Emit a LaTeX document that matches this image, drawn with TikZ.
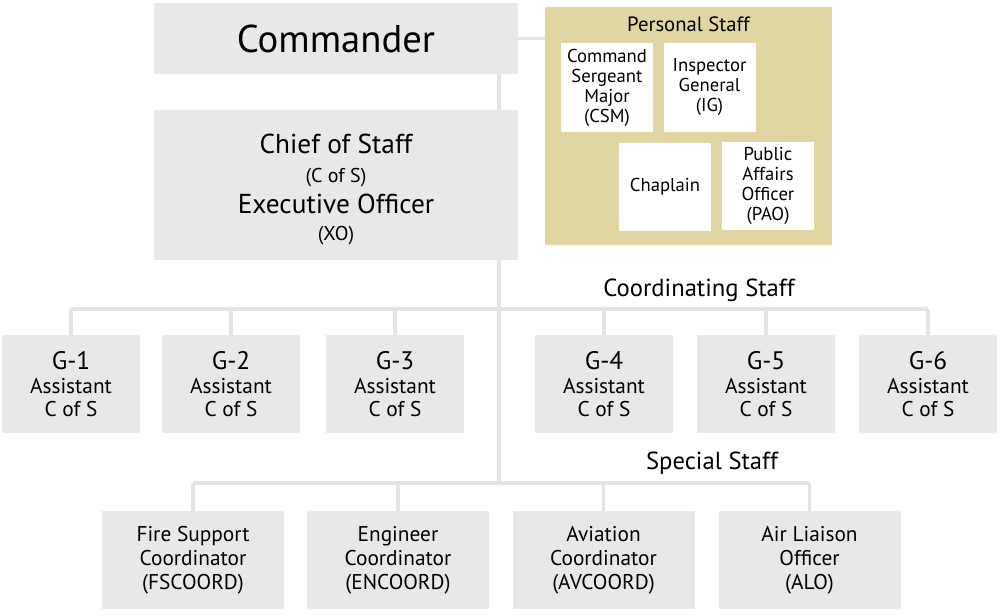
\documentclass[tikz,border=0pt]{standalone}
\usepackage{fontspec}
\setmainfont{PT Sans}
\usepackage{xcolor}
\usetikzlibrary{positioning}
\definecolor{boxgray}{RGB}{232, 232, 232}
\definecolor{linegray}{RGB}{228, 228, 228}
\definecolor{stafftan}{RGB}{224, 213, 163}

\newcommand{\gname}[1]{{\fontsize{19}{20}\selectfont #1}\\[1.2pt]}

\tikzset{
 link/.style={draw=linegray, line width=2.4pt},
 graybox/.style={fill=boxgray, inner sep=0pt, align=center},
 gstaff/.style={graybox, minimum width=103.5pt, minimum height=73.5pt, font=\fontsize{16}{17.25}\selectfont},
 sstaff/.style={graybox, minimum width=136.5pt, minimum height=73.5pt, font=\fontsize{16}{18}\selectfont},
 pstaff/.style={fill=white, inner sep=0pt, align=center, minimum width=69pt, minimum height=66.5pt, font=\fontsize{14}{15}\selectfont},
 grouptitle/.style={font=\fontsize{18.5}{20}\selectfont, inner sep=0pt},
}

\begin{document}
\begin{tikzpicture}[x=0.75pt, y=-0.75pt]
\useasboundingbox (0,0) rectangle (1000,615);

 %command group
 \node[graybox, minimum width=273pt, minimum height=53pt, font=\fontsize{29}{32}\selectfont] (cmd) at (336,38.5) {Commander};
 \node[graybox, minimum width=273pt, minimum height=112.5pt] (cos) at (336,185) {};
 \node[anchor=base, inner sep=0pt, font=\fontsize{20.5}{24}\selectfont] (cosname) at (336,153) {Chief of Staff};
 \node[anchor=base, inner sep=0pt, font=\fontsize{15}{17}\selectfont] (cosabbr) at (336,182) {(C of S)};
 \node[anchor=base, inner sep=0pt, font=\fontsize{20.5}{24}\selectfont] (xoname) at (336,213) {Executive Officer};
 \node[anchor=base, inner sep=0pt, font=\fontsize{15}{17}\selectfont] (xoabbr) at (336,240) {(XO)};

 %personal staff
 \node[fill=stafftan, inner sep=0pt, minimum width=215pt, minimum height=178.5pt] (pers) at (688.5,126) {};
 \node[inner sep=0pt, font=\fontsize{15.5}{17}\selectfont] (perstitle) at (688.5,24.5) {Personal Staff};
 \node[pstaff] (csm) at (607,87.5) {Command\\Sergeant\\Major\\(CSM)};
 \node[pstaff] (ig) at (709.5,87.5) {Inspector\\General\\(IG)};
 \node[pstaff] (chap) at (665,187) {Chaplain};
 \node[pstaff] (pao) at (768,186) {Public\\Affairs\\Officer\\(PAO)};

 \coordinate (cs) at (499,309);
 \coordinate (ss) at (499,483);

 %coordinating staff
 \node[gstaff] (g1) at (71,384) {\gname{G-1}Assistant\\C of S};
 \node[gstaff] (g2) at (231,384) {\gname{G-2}Assistant\\C of S};
 \node[gstaff] (g3) at (395,384) {\gname{G-3}Assistant\\C of S};
 \node[gstaff] (g4) at (604,384) {\gname{G-4}Assistant\\C of S};
 \node[gstaff] (g5) at (766,384) {\gname{G-5}Assistant\\C of S};
 \node[gstaff] (g6) at (928,384) {\gname{G-6}Assistant\\C of S};
 \node[grouptitle] (cstitle) at (699,290) {Coordinating Staff};

 %special staff
 \node[sstaff] (fsc) at (193,560) {Fire Support\\Coordinator\\(FSCOORD)};
 \node[sstaff] (enc) at (398,560) {Engineer\\Coordinator\\(ENCOORD)};
 \node[sstaff] (avc) at (603.5,560) {Aviation\\Coordinator\\(AVCOORD)};
 \node[sstaff] (alo) at (809.5,560) {Air Liaison\\Officer\\(ALO)};
 \node[grouptitle] (sstitle) at (712,463) {Special Staff};

 %links
 \draw[link] (cmd.east) -- (cmd.east -| pers.west);
 \draw[link] (cmd.south -| cs) -- (cos.north -| cs);
 \draw[link] (cos.south -| cs) -- (ss);
 \draw[link] (g1.north |- cs) -- (g6.north |- cs);
 \foreach \g in {g1,g2,g3,g4,g5,g6}
  \draw[link] (\g.north |- cs) -- (\g.north);
 \draw[link] (fsc.north |- ss) -- (alo.north |- ss);
 \foreach \s in {fsc,enc,avc,alo}
  \draw[link] (\s.north |- ss) -- (\s.north);

\end{tikzpicture}
\end{document}
